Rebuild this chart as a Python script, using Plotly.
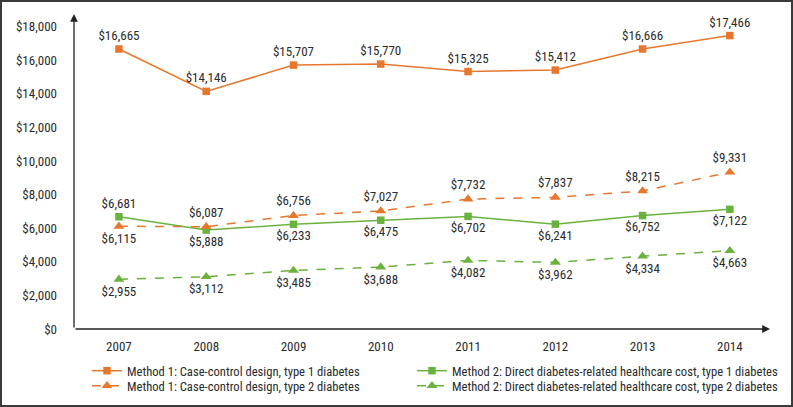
import plotly.graph_objects as go

years = [2007, 2008, 2009, 2010, 2011, 2012, 2013, 2014]
m1_t1 = [16665, 14146, 15707, 15770, 15325, 15412, 16666, 17466]
m1_t2 = [6115, 6087, 6756, 7027, 7732, 7837, 8215, 9331]
m2_t1 = [6681, 5888, 6233, 6475, 6702, 6241, 6752, 7122]
m2_t2 = [2955, 3112, 3485, 3688, 4082, 3962, 4334, 4663]
names = [
    "Method 1: Case-control design, type 1 diabetes",
    "Method 1: Case-control design, type 2 diabetes",
    "Method 2: Direct diabetes-related healthcare cost, type 1 diabetes",
    "Method 2: Direct diabetes-related healthcare cost, type 2 diabetes",
]
y_ticks = list(range(0, 18001, 2000))

ORANGE = "#E8772E"
GREEN = "#6AB23E"
FONT = "Liberation Sans Narrow, Arial Narrow, Roboto Condensed, Liberation Sans, sans-serif"
TXT = "#2b2b2b"

def fmt(v):
    return "${:,}".format(v)

pos_m1t2 = ["bottom center", "top center"] + ["top center"] * 6
pos_m2t1 = ["top center", "bottom center"] + ["bottom center"] * 6

W, H = 793, 407
ML, MR, MT, MB = 74, 23, 14, 78
pw, ph = W - ML - MR, H - MT - MB

def px_x(p):
    return (p - ML) / pw

def px_y(p):
    return (H - MB - p) / ph

fig = go.Figure()
fig.add_trace(go.Scatter(x=years, y=m1_t1, name=names[0], mode="lines+markers+text",
                         line=dict(color=ORANGE, width=1.5),
                         marker=dict(symbol="square", size=7.5, color=ORANGE),
                         text=[fmt(v) for v in m1_t1], textposition="top center",
                         textfont=dict(family=FONT, size=13, color=TXT), cliponaxis=False,
                         legend="legend"))
fig.add_trace(go.Scatter(x=years, y=m2_t1, name=names[2], mode="lines+markers+text",
                         line=dict(color=GREEN, width=1.5),
                         marker=dict(symbol="square", size=7.5, color=GREEN),
                         text=[fmt(v) for v in m2_t1], textposition=pos_m2t1,
                         textfont=dict(family=FONT, size=13, color=TXT), cliponaxis=False,
                         legend="legend2"))
fig.add_trace(go.Scatter(x=years, y=m1_t2, name=names[1], mode="lines+markers+text",
                         line=dict(color=ORANGE, width=1.5, dash="dash"),
                         marker=dict(symbol="triangle-up", size=9.5, color=ORANGE),
                         text=[fmt(v) for v in m1_t2], textposition=pos_m1t2,
                         textfont=dict(family=FONT, size=13, color=TXT), cliponaxis=False,
                         legend="legend3"))
fig.add_trace(go.Scatter(x=years, y=m2_t2, name=names[3], mode="lines+markers+text",
                         line=dict(color=GREEN, width=1.5, dash="dash"),
                         marker=dict(symbol="triangle-up", size=9.5, color=GREEN),
                         text=[fmt(v) for v in m2_t2], textposition="bottom center",
                         textfont=dict(family=FONT, size=13, color=TXT), cliponaxis=False,
                         legend="legend4"))

XL, XR = 2006.485, 2014.46
YT = 18750

fig.add_annotation(x=XL, y=YT, ax=XL, ay=0, xref="x", yref="y", axref="x", ayref="y",
                   text="", showarrow=True, arrowhead=2, arrowsize=1.2, arrowwidth=1.3,
                   arrowcolor="#222", standoff=0, startstandoff=0)
fig.add_annotation(x=XR, y=0, ax=XL, ay=0, xref="x", yref="y", axref="x", ayref="y",
                   text="", showarrow=True, arrowhead=2, arrowsize=1.2, arrowwidth=1.3,
                   arrowcolor="#222", standoff=0, startstandoff=0)

fig.add_shape(type="rect", xref="paper", yref="paper",
              x0=px_x(1), x1=px_x(W - 1), y0=px_y(H - 1), y1=px_y(1),
              line=dict(color="#3a3a3a", width=2), fillcolor="rgba(0,0,0,0)", layer="above")

def leg(xp, yp):
    return dict(x=px_x(xp), xanchor="left", y=px_y(yp), yanchor="middle",
                orientation="v", font=dict(family=FONT, size=12.6, color=TXT),
                itemwidth=30, bgcolor="rgba(0,0,0,0)", borderwidth=0)

fig.update_layout(
    width=W, height=H,
    margin=dict(l=ML, r=MR, t=MT, b=MB, autoexpand=False),
    paper_bgcolor="white", plot_bgcolor="white",
    font=dict(family=FONT, size=13, color=TXT),
    xaxis=dict(range=[XL, XR], tickvals=years, ticktext=[str(y) for y in years],
               showgrid=False, zeroline=False, showline=False, ticks="",
               ticklabelstandoff=8, tickfont=dict(family=FONT, size=13, color=TXT)),
    yaxis=dict(range=[0, YT], tickvals=y_ticks, ticktext=[fmt(v) for v in y_ticks],
               showgrid=False, zeroline=False, showline=False, ticks="",
               ticklabelstandoff=16, tickfont=dict(family=FONT, size=13, color=TXT)),
    legend=leg(87, 371),
    legend2=leg(412, 371),
    legend3=leg(87, 386),
    legend4=leg(412, 386),
    showlegend=True,
)

fig.write_html("out.html", config={"displayModeBar": False},
               post_script="document.body.style.margin='0';document.body.style.overflow='hidden';")
